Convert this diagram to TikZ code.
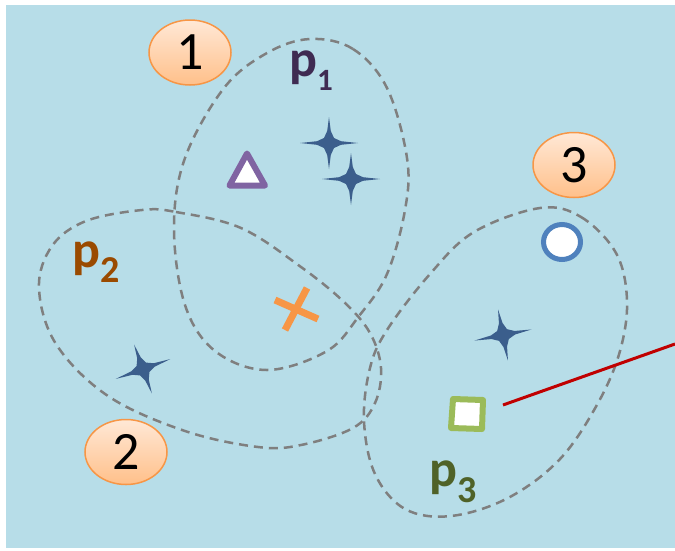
\documentclass[tikz,border=0pt]{standalone}
\usepackage{fontspec}
\setmainfont{Carlito}
\usetikzlibrary{shapes.geometric}
\definecolor{bgblue}{HTML}{B7DDE8}
\definecolor{starblue}{HTML}{3B5E8C}
\definecolor{dashgray}{HTML}{7F7F7F}
\definecolor{ellline}{HTML}{F79646}
\definecolor{elltop}{HTML}{FFE8D6}
\definecolor{ellbot}{HTML}{FFC08A}
\definecolor{pone}{HTML}{3F2B52}
\definecolor{ptwo}{HTML}{9A4A00}
\definecolor{pthree}{HTML}{4F6228}
\definecolor{trip}{HTML}{8064A2}
\definecolor{circb}{HTML}{4F81BD}
\definecolor{sqg}{HTML}{9BBB59}
\definecolor{xorange}{HTML}{F79646}
\definecolor{redl}{HTML}{C00000}
\tikzset{
  numell/.style={ellipse, draw=ellline, line width=1.5pt, top color=elltop, bottom color=ellbot,
    minimum width=82pt, minimum height=65pt, inner sep=0pt, font=\fontsize{54}{54}\selectfont},
  loopline/.style={draw=dashgray, line width=2.5pt, dash pattern=on 9pt off 6pt},
  plabel/.style={anchor=base west, inner sep=0pt, font=\fontsize{52}{52}\selectfont\bfseries},
  fourstar/.pic={\fill[starblue] (0,-26) -- (1.8,-12) -- (5,-5) -- (12,-1.8) -- (29,0) -- (12,1.8) -- (5,5) -- (1.8,12)
     -- (0,26) -- (-1.8,12) -- (-5,5) -- (-12,1.8) -- (-29,0) -- (-12,-1.8) -- (-5,-5) -- (-1.8,-12) -- cycle;}
}
\begin{document}
\begin{tikzpicture}[x=1pt,y=-1pt]
\useasboundingbox (0,0) rectangle (675,550);
\fill[bgblue] (6,5) rectangle (675,548);

% dashed loops
\draw[loopline] plot[smooth cycle, tension=0.6] coordinates {
 (310,39) (353,49) (387,88) (407,158) (405,210) (387,274) (359,316) (327,351) (267,370)
 (215,351) (185,305) (174,228) (185,158) (224,88) (267,53)};
\draw[loopline] plot[smooth cycle, tension=0.6] coordinates {
 (142,210) (176,212) (241,228) (301,267) (344,302) (370,333) (381,368) (375,403) (353,428)
 (301,445) (258,447) (185,431) (108,396) (56,344) (39,288) (52,246) (86,221)};
\draw[loopline] plot[smooth cycle, tension=0.6] coordinates {
 (540,208) (581,217) (616,253) (627,300) (620,351) (598,403) (560,459) (508,498) (451,516)
 (405,509) (375,474) (364,421) (370,368) (387,330) (430,274) (474,232)};

% numbered ellipses
\node[numell] (n1) at (190,52.5) {1};
\node[numell] (n2) at (126,452) {2};
\node[numell] (n3) at (574,165) {3};

% labels
\node[plabel, text=pone] (p1) at (289,76.5) {p\raisebox{-13.5pt}{\fontsize{31}{31}\selectfont 1}};
\node[plabel, text=ptwo] (p2) at (72.5,267.5) {p\raisebox{-15pt}{\fontsize{38}{38}\selectfont 2}};
\node[plabel, text=pthree] (p3) at (429.5,486.5) {p\raisebox{-16pt}{\fontsize{38}{38}\selectfont 3}};

% stars
\pic at (329,143) {fourstar};
\pic at (351,179) {fourstar};
\pic[rotate=20] at (143,369) {fourstar};
\pic[rotate=11] at (503,335) {fourstar};

% triangle
\draw[trip, fill=white, line width=6pt, line join=round] (247,153.5) -- (265,185.5) -- (229.5,185.5) -- cycle;
% circle
\draw[circb, fill=white, line width=5pt] (562,242) ellipse [x radius=18.5, y radius=17.5];
% square
\draw[sqg, fill=white, line width=6pt, line join=round] (453,399) -- (483,400) -- (482,429) -- (451,428) -- cycle;
% cross
\draw[xorange, line width=7pt] (275,300) -- (318,319);
\draw[xorange, line width=7pt] (307,288) -- (285,330);

% red line
\coordinate (r1) at (503,405);
\coordinate (r2) at (675,344);
\draw[redl, line width=3pt] (r1) -- (r2);
\end{tikzpicture}
\end{document}
